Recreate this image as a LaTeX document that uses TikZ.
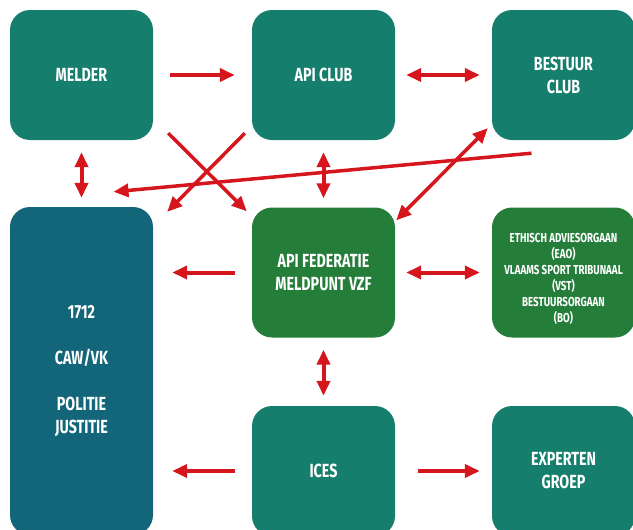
\documentclass[tikz,border=0pt]{standalone}
\usepackage{fontspec}
\setmainfont{Fira Sans}[FakeStretch=0.75]
\usetikzlibrary{arrows.meta}
\definecolor{boxteal}{HTML}{167E6D}
\definecolor{boxblue}{HTML}{136579}
\definecolor{boxgreen}{HTML}{257D3A}
\definecolor{arrred}{HTML}{D5161D}

\begin{document}
\begin{tikzpicture}[
  x=1pt, y=-1pt,
  box/.style={rounded corners=20pt, fill=boxteal, minimum width=143pt,
    minimum height=130pt, inner sep=0pt, text=white, align=center,
    font=\bfseries\fontsize{19}{23}\selectfont},
  arr/.style={draw=arrred, line width=4pt, -{Triangle[length=15pt,width=13pt]}},
  darr/.style={arr, {Triangle[length=15pt,width=13pt]}-{Triangle[length=15pt,width=13pt]}},
]
\useasboundingbox (0,0) rectangle (633,530);
\clip (0,0) rectangle (633,530);
\node[box] (melder) at (81.5,75) {MELDER};
\node[box] (apiclub) at (323.5,75) {API CLUB};
\node[box] (bestuur) at (563.5,75) {BESTUUR\\CLUB};
\node[box, fill=boxblue, minimum height=328pt] (hulp) at (81.5,371)
  {1712\\[23pt]CAW/VK\\[23pt]POLITIE\\JUSTITIE};
\node[box, fill=boxgreen] (apifed) at (323.5,272.5) {API FEDERATIE\\MELDPUNT VZF};
\node[box, fill=boxgreen, font=\bfseries\fontsize{13}{16}\selectfont] (organen) at (563.5,272.5)
  {\rule{0pt}{23pt}ETHISCH ADVIESORGAAN\\(EAO)\\VLAAMS SPORT TRIBUNAAL\\(VST)\\BESTUURSORGAAN\\(BO)};
\node[box] (ices) at (323.5,471) {ICES};
\node[box] (experten) at (563.5,471) {EXPERTEN\\GROEP};

\draw[arr, shorten <=17pt, shorten >=17pt] (melder) -- (apiclub);
\draw[darr, shorten <=11pt, shorten >=12pt] (apiclub) -- (bestuur);
\draw[darr, shorten <=12pt, shorten >=9pt] (melder) -- (melder |- hulp.north);
\draw[darr, shorten <=12pt, shorten >=9pt] (apiclub) -- (apifed);
\draw[arr, line width=3.5pt] ([xshift=15pt,yshift=7pt]melder.south east) -- ([xshift=-5pt,yshift=-4pt]apifed.north west);
\draw[arr, line width=3.5pt] ([xshift=-7pt,yshift=7pt]apiclub.south west) -- ([xshift=14pt,yshift=-5pt]hulp.north east);
\draw[arr, line width=3.5pt] ([xshift=-32pt,yshift=-13pt]bestuur.south) -- ([xshift=32pt,yshift=15pt]hulp.north);
\draw[darr, line width=3.5pt] ([xshift=1pt,yshift=-13pt]apifed.north east) -- ([xshift=-4pt,yshift=12pt]bestuur.south west);
\draw[arr, shorten <=17pt, shorten >=19pt] (apifed) -- (apifed -| hulp.east);
\draw[darr, shorten <=11pt, shorten >=12pt] (apifed) -- (organen);
\draw[darr, shorten <=12pt, shorten >=10pt] (apifed) -- (apifed |- ices.north);
\draw[arr, shorten <=17pt, shorten >=19pt] (ices) -- (ices -| hulp.east);
\draw[arr, shorten <=23pt, shorten >=12pt] (ices) -- (experten);
\end{tikzpicture}
\end{document}
